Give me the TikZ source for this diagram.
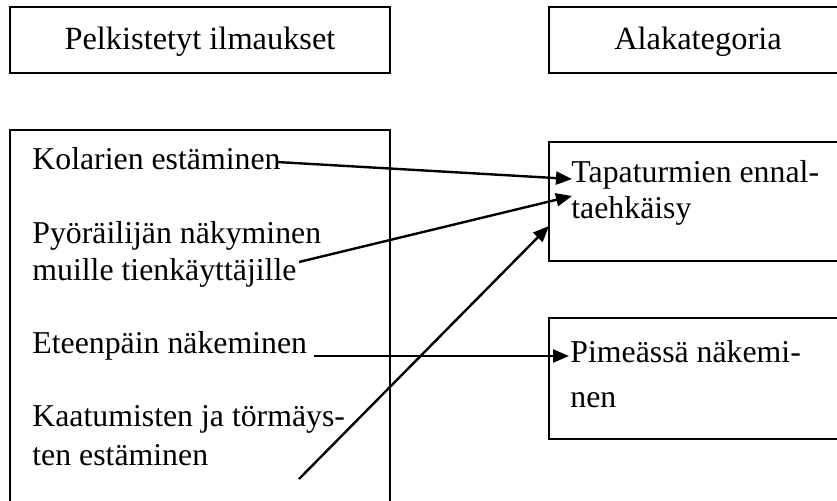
\documentclass[tikz,border=0pt]{standalone}
\usepackage{fontspec}
\setmainfont{Liberation Serif}
\usetikzlibrary{arrows.meta}
\begin{document}
\begin{tikzpicture}[x=0.5pt,y=-0.5pt,
  boxst/.style={draw=black,line width=0.9pt},
  lbl/.style={inner sep=0pt,anchor=base west,font=\fontsize{15.9}{18}\selectfont},
  clbl/.style={inner sep=0pt,anchor=base,font=\fontsize{16.2}{18}\selectfont},
  arr/.style={line width=1.2pt,-{Triangle[length=8pt,width=6.5pt]}}]
\useasboundingbox (0,0) rectangle (837,500);
\clip (0,0) rectangle (837,500);
% boxes
\draw[boxst] (10,7) rectangle (390,73);
\draw[boxst] (549,7) rectangle (848,73);
\draw[boxst] (10,130) rectangle (390,520);
\draw[boxst] (549,142) rectangle (848,261);
\draw[boxst] (549,318) rectangle (848,439);
% headers
\node[clbl] (h1) at (200,49) {Pelkistetyt ilmaukset};
\node[clbl] (h2) at (698,49) {Alakategoria};
% left texts
\node[lbl] (k1) at (32,169) {Kolarien estäminen};
\node[lbl] (p1) at (32,243) {Pyöräilijän näkyminen};
\node[lbl] (p2) at (32,280) {muille tienkäyttäjille};
\node[lbl] (e1) at (32,353) {Eteenpäin näkeminen};
\node[lbl] (ka1) at (32,426) {Kaatumisten ja törmäys-};
\node[lbl] (ka2) at (32,465) {ten estäminen};
% right texts
\node[lbl] (t1) at (571,182) {Tapaturmien ennal-};
\node[lbl] (t2) at (571,218) {taehkäisy};
\node[lbl] (pm1) at (570,362) {Pimeässä näkemi-};
\node[lbl] (pm2) at (570,407) {nen};
% connector ends
\coordinate (a1s) at (277,162);
\coordinate (a1e) at (572,179);
\coordinate (a2s) at (299,262);
\coordinate (a2e) at (572,196);
\coordinate (a3s) at (299,479);
\coordinate (a3e) at (549,226);
\coordinate (a4s) at (314,356);
\coordinate (a4e) at (569,356);
% arrows
\draw[arr] (a1s) -- (a1e);
\draw[arr] (a2s) -- (a2e);
\draw[arr] (a3s) -- (a3e);
\draw[arr] (a4s) -- (a4e);
\end{tikzpicture}
\end{document}
